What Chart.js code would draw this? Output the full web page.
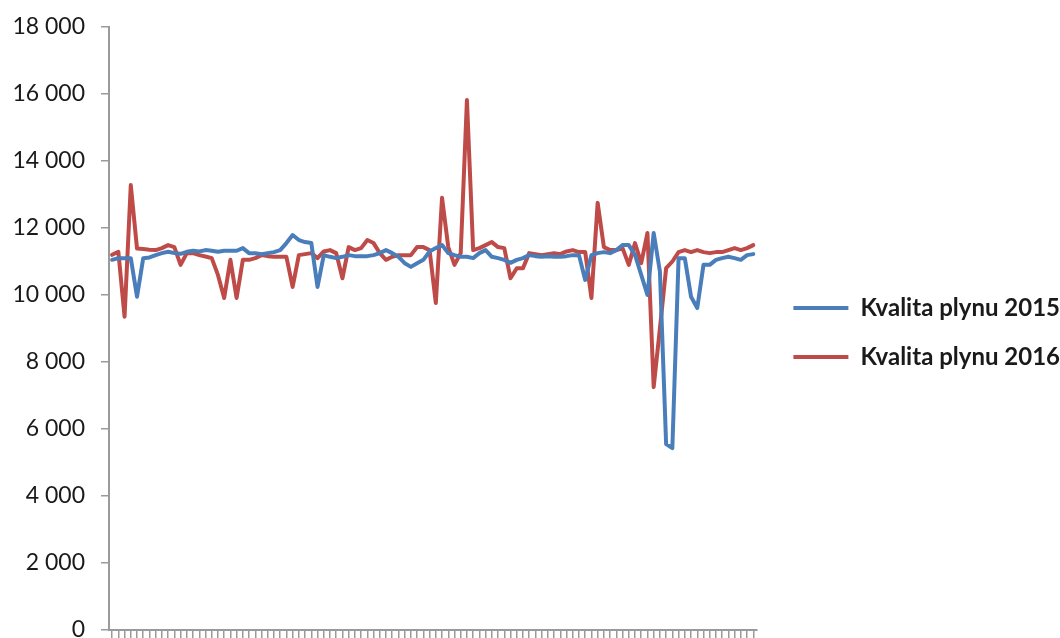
<!DOCTYPE html>
<html>
<head>
<meta charset="utf-8">
<script src="https://cdn.jsdelivr.net/npm/chart.js@4"></script>
<style>
  html, body { margin: 0; padding: 0; background: #fff; }
  #wrap { width: 1060px; height: 638px; }
</style>
</head>
<body>
<div id="wrap"><canvas id="chart" width="1060" height="638"></canvas></div>
<script>
"use strict";
// measurement number on the x axis (labels are cut off in the original)
const points = Array.from({ length: 104 }, (_, i) => String(i + 1));

const kvalita2015 = [
  11050, 11100, 11100, 11100, 9950, 11100, 11120, 11190, 11250, 11290,
  11250, 11230, 11290, 11320, 11300, 11340, 11320, 11290, 11320, 11320,
  11320, 11400, 11250, 11250, 11220, 11250, 11280, 11340, 11550, 11790,
  11640, 11580, 11550, 10240, 11190, 11140, 11100, 11140, 11190, 11160,
  11160, 11160, 11190, 11250, 11340, 11250, 11140, 10950, 10840, 10950,
  11050, 11300, 11400, 11490, 11250, 11190, 11140, 11140, 11100, 11250,
  11340, 11140, 11100, 11050, 10960, 11050, 11100, 11190, 11160, 11140,
  11160, 11140, 11140, 11160, 11190, 11190, 10450, 11190, 11250, 11280,
  11250, 11340, 11490, 11490, 11200, 10600, 10000, 11850, 10700, 5550,
  5430, 11100, 11100, 9950, 9610, 10900, 10900, 11050, 11100, 11140,
  11100, 11050, 11190, 11220,
];

const kvalita2016 = [
  11200, 11290, 9350, 13280, 11390, 11370, 11350, 11340, 11400, 11490,
  11430, 10900, 11250, 11250, 11190, 11150, 11100, 10600, 9910, 11050,
  9910, 11050, 11050, 11100, 11190, 11160, 11140, 11140, 11140, 10240,
  11190, 11220, 11250, 11100, 11300, 11340, 11250, 10500, 11430, 11340,
  11400, 11640, 11550, 11250, 11050, 11140, 11190, 11190, 11190, 11430,
  11430, 11340, 9760, 12900, 11430, 10900, 11250, 15820, 11340, 11400,
  11490, 11580, 11430, 11400, 10500, 10800, 10800, 11250, 11220, 11190,
  11220, 11250, 11220, 11300, 11340, 11280, 11280, 9910, 12750, 11430,
  11340, 11340, 11400, 10900, 11550, 10950, 11850, 7250, 9000, 10800,
  11000, 11280, 11340, 11280, 11340, 11280, 11250, 11280, 11280, 11340,
  11400, 11340, 11400, 11490,
];

const yMin = 0;
const yMax = 18000;
const yStep = 2000;

const axisGray = "#9a9a9a";
const textColor = "#1a1a1a";

const fmt = (v) => String(v).replace(/\B(?=(\d{3})+(?!\d))/g, " ");

// push the legend a bit away from the plot, like in the excel original
const legendGap = {
  id: "legendGap",
  beforeInit(chart) {
    const legend = chart.legend;
    const fit = legend.fit;
    legend.fit = function () {
      fit.call(this);
      this.width += 2;
    };
    const draw = legend.draw;
    legend.draw = function () {
      this.ctx.save();
      this.ctx.translate(12, 0);
      draw.call(this);
      this.ctx.restore();
    };
  },
};

const ctx = document.querySelector("#chart").getContext("2d");
new Chart(ctx, {
  type: "line",
  data: {
    labels: points,
    datasets: [
      {
        label: "Kvalita plynu 2015",
        data: kvalita2015,
        borderColor: "#4a7ebb",
        backgroundColor: "#4a7ebb",
        borderWidth: 4,
      },
      {
        label: "Kvalita plynu 2016",
        data: kvalita2016,
        borderColor: "#be4b48",
        backgroundColor: "#be4b48",
        borderWidth: 4,
      },
    ],
  },
  options: {
    responsive: false,
    devicePixelRatio: 1,
    animation: false,
    layout: { padding: { top: 27, left: 0, right: 0, bottom: 0 } },
    elements: {
      line: { tension: 0, borderJoinStyle: "round", borderCapStyle: "round" },
      point: { radius: 0, hoverRadius: 0 },
    },
    scales: {
      x: {
        offset: true,
        afterFit: (scale) => { scale.height = 8; },
        grid: {
          offset: false,
          drawOnChartArea: false,
          drawTicks: true,
          tickLength: 8,
          color: axisGray,
          lineWidth: 1.5,
        },
        border: { display: true, color: axisGray, width: 2 },
        ticks: { display: false, autoSkip: false },
      },
      y: {
        min: yMin,
        max: yMax,
        afterFit: (scale) => {
          scale.width = 109;
          scale.paddingTop = 0;
          scale.paddingBottom = 0;
        },
        grid: {
          drawOnChartArea: false,
          drawTicks: true,
          tickLength: 8,
          color: axisGray,
          lineWidth: 1.5,
        },
        border: { display: true, color: axisGray, width: 2 },
        ticks: {
          stepSize: yStep,
          padding: 16,
          color: textColor,
          font: { family: "Lato", size: 23 },
          callback: (v) => fmt(v),
        },
      },
    },
    plugins: {
      tooltip: { enabled: false },
      legend: {
        position: "right",
        maxWidth: 400,
        labels: {
          usePointStyle: true,
          pointStyle: "line",
          pointStyleWidth: 55,
          padding: 25,
          color: textColor,
          font: { family: "Lato", size: 24, weight: "bold" },
        },
      },
    },
  },
  plugins: [legendGap],
});
</script>
</body>
</html>
